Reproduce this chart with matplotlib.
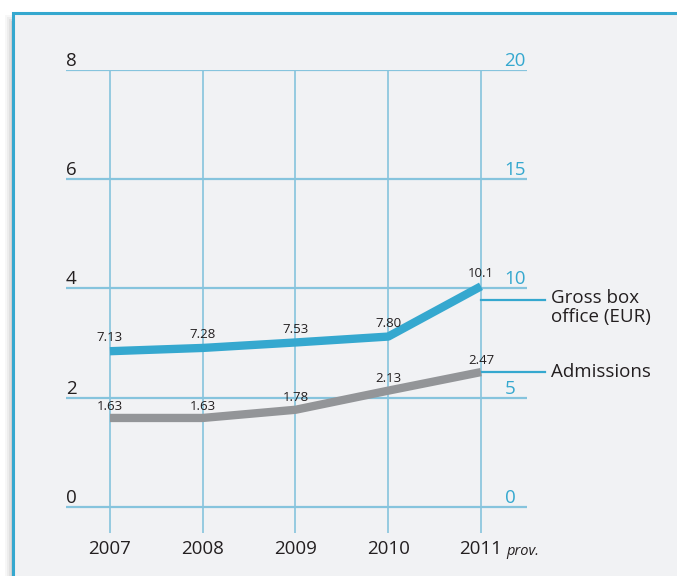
import matplotlib.pyplot as plt
from matplotlib.patches import Rectangle
import numpy as np

plt.rcParams['font.family'] = ['Open Sans', 'DejaVu Sans']

# data
years = [2007, 2008, 2009, 2010, 2011]
year_labels = ['2007', '2008', '2009', '2010', '2011']
gross_box_office = [7.13, 7.28, 7.53, 7.80, 10.1]   # right axis
admissions = [1.63, 1.63, 1.78, 2.13, 2.47]         # left axis
gross_labels = ['7.13', '7.28', '7.53', '7.80', '10.1']
adm_labels = ['1.63', '1.63', '1.78', '2.13', '2.47']
left_ticks = [0, 2, 4, 6, 8]
right_ticks = [0, 5, 10, 15, 20]

W, H = 677, 576
BLUE = '#35a8cf'
GREY = '#939598'
GRID = '#86c4dd'
TXT = '#231f20'
BG = '#f1f2f4'

fig = plt.figure(figsize=(W / 100, H / 100), dpi=100)
fig.patch.set_facecolor('white')

# soft shadow on the left of the frame + the frame itself
for i, a in enumerate([0.03, 0.04, 0.05, 0.06]):
    off = (8 - 2 * i) / W
    fig.add_artist(Rectangle((13 / W - off, -0.1), 1.2, (H - 15) / H + 0.1 - 2 * i / H,
                             transform=fig.transFigure, facecolor='black',
                             edgecolor='none', alpha=a, zorder=-3))
fig.add_artist(Rectangle((13 / W, -0.1), 1.2, (H - 13) / H + 0.1,
                         transform=fig.transFigure, facecolor=BG,
                         edgecolor=BLUE, lw=2.2, zorder=-2))

ax = fig.add_axes([66 / W, 1 - 533 / H, (527 - 66) / W, (533 - 70) / H])
ax.set_facecolor('none')
ax.set_xlim(2006.526, 2011.496)
ax.set_ylim(-0.476, 8)
for s in ax.spines.values():
    s.set_visible(False)
ax.set_yticks([])
ax.set_xticks(years)
ax.set_xticklabels(year_labels, fontsize=13.5, color=TXT)
ax.tick_params(axis='x', length=0, pad=5)

ax2 = ax.twinx()
ax2.set_ylim(-0.476 * 2.5, 20)
for s in ax2.spines.values():
    s.set_visible(False)
ax2.set_yticks([])

# grid
for t in left_ticks:
    ax.axhline(t, color=GRID, lw=1.6, zorder=1)
for x in years:
    ax.axvline(x, color=GRID, lw=1.2, zorder=1)

# axis labels drawn above the grid lines
for t in left_ticks:
    ax.annotate(str(t), (0, t), xycoords=('axes fraction', 'data'),
                xytext=(0, 3), textcoords='offset points',
                ha='left', va='baseline', fontsize=13.5, color=TXT)
for t in right_ticks:
    ax2.annotate(str(t), (years[-1], t), xytext=(17, 3), textcoords='offset points',
                 ha='left', va='baseline', fontsize=13.5, color=BLUE)

# lines
ax2.plot(years, gross_box_office, color=BLUE, lw=6, solid_capstyle='butt',
         solid_joinstyle='round', zorder=3)
ax.plot(years, admissions, color=GREY, lw=6, solid_capstyle='butt',
        solid_joinstyle='round', zorder=3)

for x, v, s in zip(years, gross_box_office, gross_labels):
    ax2.annotate(s, (x, v), xytext=(0, 7), textcoords='offset points',
                 ha='center', va='baseline', fontsize=9.5, color=TXT, zorder=4)
for x, v, s in zip(years, admissions, adm_labels):
    ax.annotate(s, (x, v), xytext=(0, 6), textcoords='offset points',
                ha='center', va='baseline', fontsize=9.5, color=TXT, zorder=4)

# "prov." after the last year
ax.annotate('prov.', (years[-1], 0), xycoords=('data', 'axes fraction'),
            xytext=(18, -16), textcoords='offset points', ha='left', va='baseline',
            fontsize=10.5, style='italic', color=TXT)

# legend connectors
leg_y_gross = 3.79
leg_y_adm = admissions[-1]
ax.plot([years[-1], 2011.69], [leg_y_gross, leg_y_gross], color=BLUE, lw=1.6,
        clip_on=False, zorder=2)
ax.plot([years[-1], 2011.69], [leg_y_adm, leg_y_adm], color=BLUE, lw=1.6,
        clip_on=False, zorder=2)
ax.annotate('Gross box\noffice (EUR)', (2011.69, leg_y_gross), xytext=(4, 8),
            textcoords='offset points', ha='left', va='top', fontsize=13.5,
            linespacing=1.05, color=TXT, annotation_clip=False)
ax.annotate('Admissions', (2011.69, leg_y_adm), xytext=(4, 0),
            textcoords='offset points', ha='left', va='center', fontsize=13.5,
            color=TXT, annotation_clip=False)

fig.savefig('out.png', dpi=100, facecolor=fig.get_facecolor())
